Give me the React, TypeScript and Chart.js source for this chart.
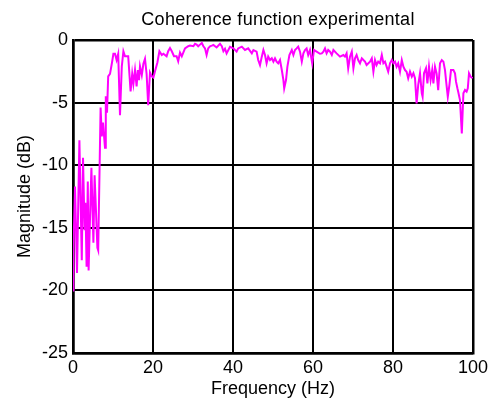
import React, { useEffect, useRef } from "react";
import { Chart, registerables } from "chart.js";

Chart.register(...registerables);

const chartTitle = "Coherence function experimental";
const xAxisTitle = "Frequency (Hz)";
const yAxisTitle = "Magnitude (dB)";
const xTickValues = [0, 20, 40, 60, 80, 100];
const yTickValues = [-25, -20, -15, -10, -5, 0];

const freqHz = [
  0, 0.1, 0.5, 1.0, 1.6, 2.2, 2.5, 2.9, 3.1, 3.4, 3.7, 3.9, 4.6, 5.1, 5.4, 6.1, 6.3, 6.9, 7.2, 7.5,
  8.0, 8.2, 8.5, 8.8, 9.25, 9.7, 10.1, 10.5, 10.9, 11.3, 11.75, 12.2, 12.6, 13.0, 13.8, 14.4, 14.8, 15.1, 15.5, 15.9,
  16.2, 16.5, 16.75, 17.2, 17.6, 18.0, 18.4, 18.8, 19.25, 19.7, 20.1, 20.5, 21.1, 21.6, 22.2, 22.6, 23.4, 23.8, 24.25, 24.7,
  25.25, 25.9, 26.3, 26.75, 27.2, 28.0, 28.8, 29.25, 30.1, 30.5, 30.9, 31.3, 31.75, 32.2, 32.6, 33.0, 33.4, 33.8, 34.25, 34.7,
  35.1, 35.9, 36.75, 37.2, 37.6, 38.0, 38.4, 39.25, 40.1, 40.9, 41.3, 42.2, 43.0, 43.8, 44.7, 45.1, 45.9, 46.3, 46.75, 47.2,
  47.6, 48.0, 48.4, 48.8, 49.25, 49.7, 50.1, 50.5, 50.9, 51.3, 51.75, 52.2, 52.6, 52.8, 53.25, 53.6, 54.1, 54.7, 55.1, 55.5,
  55.9, 56.3, 56.75, 57.2, 57.6, 58.0, 58.4, 58.8, 59.25, 59.8, 60.25, 60.9, 61.75, 62.2, 62.6, 63.0, 63.4, 63.8, 64.25, 64.7,
  65.1, 65.9, 66.75, 67.6, 68.0, 68.4, 68.8, 69.25, 69.7, 70.1, 70.5, 70.9, 71.3, 71.75, 72.2, 72.6, 73.0, 73.4, 74.25, 74.7,
  75.1, 75.5, 75.9, 76.3, 76.75, 77.2, 77.6, 78.0, 78.4, 78.8, 79.25, 79.7, 80.1, 80.5, 80.9, 81.3, 81.75, 82.2, 82.6, 83.0,
  83.4, 83.8, 84.25, 84.7, 85.1, 85.5, 85.9, 86.3, 86.75, 87.2, 87.4, 87.75, 88.25, 88.6, 89.0, 89.4, 89.8, 90.1, 90.5, 90.9,
  91.3, 91.75, 92.2, 92.6, 93.0, 93.25, 93.7, 94.1, 94.5, 95.1, 95.5, 95.75, 96.1, 96.3, 96.75, 97.2, 97.6, 98.0, 98.4, 98.7,
  99.0, 99.4, 99.9,
];

const magnitudeDb = [
  -20.0, -16.8, -11.7, -18.6, -8.0, -17.6, -9.4, -15.2, -13.0, -18.1, -11.3, -18.4, -10.2, -16.2, -10.8, -16.6, -16.8, -5.4, -7.7, -6.6,
  -8.6, -4.5, -5.8, -2.9, -2.7, -1.9, -1.1, -1.1, -1.6, -1.1, -6.0, -2.1, -0.9, -1.3, -1.3, -4.1, -2.7, -3.5, -2.4, -3.7,
  -2.4, -3.2, -2.1, -2.8, -1.9, -1.5, -2.7, -5.2, -2.6, -2.9, -3.0, -2.5, -1.8, -0.9, -1.2, -1.1, -1.3, -0.9, -0.64, -0.9,
  -1.3, -1.3, -1.7, -1.0, -1.3, -0.67, -0.5, -0.45, -0.5, -0.3, -0.37, -0.5, -0.37, -0.24, -0.5, -0.67, -1.2, -0.67, -0.5, -0.45,
  -0.4, -0.6, -0.3, -0.5, -0.9, -0.7, -1.07, -0.55, -0.67, -0.93, -0.67, -0.53, -0.8, -0.67, -1.07, -0.8, -0.93, -1.6, -2.0, -1.33,
  -0.8, -1.2, -1.86, -1.33, -1.6, -1.46, -1.73, -1.46, -1.73, -1.86, -1.6, -2.4, -3.2, -3.86, -3.2, -2.13, -1.2, -0.8, -1.2, -0.8,
  -0.67, -0.53, -0.93, -1.73, -1.07, -0.8, -0.67, -1.2, -0.8, -1.86, -0.8, -0.93, -1.1, -1.07, -0.93, -0.67, -1.07, -0.8, -0.93, -1.2,
  -0.8, -1.07, -1.33, -1.2, -1.33, -1.07, -2.26, -1.33, -0.93, -2.26, -1.46, -1.2, -1.6, -1.86, -1.46, -1.6, -1.73, -2.0, -1.73, -1.46,
  -2.53, -1.6, -2.0, -1.73, -1.86, -1.2, -1.86, -1.73, -2.13, -2.53, -1.86, -1.6, -1.86, -1.73, -2.13, -1.86, -2.53, -1.6, -2.13, -2.4,
  -2.53, -3.06, -2.53, -2.93, -2.66, -3.06, -5.06, -3.6, -2.66, -4.26, -4.53, -2.66, -2.26, -3.46, -2.13, -3.2, -2.4, -3.46, -2.13, -2.66,
  -4.0, -1.86, -1.6, -1.73, -2.4, -3.2, -4.53, -3.6, -2.4, -2.4, -2.66, -3.33, -3.86, -4.13, -4.8, -7.46, -4.26, -4.0, -4.13, -3.86,
  -2.66, -2.93, -3.06,
];

const FONT = "'Liberation Sans', Arial, Helvetica, sans-serif";

const titlePlugin = {
  id: "centeredTitle",
  afterDraw(chart: any) {
    const { ctx, chartArea } = chart;
    ctx.save();
    ctx.font = `18px ${FONT}`;
    ctx.fillStyle = "#000";
    ctx.textAlign = "center";
    ctx.textBaseline = "middle";
    try {
      (ctx as any).letterSpacing = "0.3px";
    } catch (e) {}
    ctx.fillText(chartTitle, (chartArea.left + chartArea.right) / 2 + 5, 20);
    ctx.restore();
  },
};

export default function App() {
  const canvasRef = useRef<HTMLCanvasElement | null>(null);

  useEffect(() => {
    const canvas = canvasRef.current;
    if (!canvas) return;
    const points = freqHz.map((f, i) => ({ x: f, y: magnitudeDb[i] }));
    const edgeWidth = (ctx: any) => {
      const v = ctx.tick ? ctx.tick.value : null;
      return v === 0 || v === 100 || v === -25 ? 2.5 : 2;
    };
    const chart = new Chart(canvas, {
      type: "line",
      data: {
        datasets: [
          {
            data: points,
            borderColor: "#ff00ff",
            borderWidth: 2,
            pointRadius: 0,
            tension: 0,
            fill: false,
          },
        ],
      },
      options: {
        animation: false,
        responsive: false,
        maintainAspectRatio: false,
        layout: { padding: { left: 0, right: 20, top: 40, bottom: 0 } },
        plugins: {
          legend: { display: false },
          tooltip: { enabled: false },
          title: { display: false },
        },
        scales: {
          x: {
            type: "linear",
            min: 0,
            max: 100,
            afterBuildTicks: (scale: any) => {
              scale.ticks = xTickValues.map((v) => ({ value: v }));
            },
            afterFit: (scale: any) => {
              scale.height = 47;
            },
            grid: { color: "#000", lineWidth: edgeWidth, drawTicks: false },
            border: { color: "#000", width: 2.5 },
            ticks: {
              color: "#000",
              padding: 4,
              maxRotation: 0,
              font: { family: FONT, size: 18 },
            },
            title: {
              display: true,
              text: xAxisTitle,
              color: "#000",
              font: { family: FONT, size: 18 },
              padding: { top: 0, bottom: 0.5 },
            },
          },
          y: {
            type: "linear",
            min: -25,
            max: 0,
            afterBuildTicks: (scale: any) => {
              scale.ticks = yTickValues.map((v) => ({ value: v }));
            },
            afterFit: (scale: any) => {
              scale.width = 73;
            },
            grid: { color: "#000", lineWidth: edgeWidth, drawTicks: false },
            border: { color: "#000", width: 2.5 },
            ticks: {
              color: "#000",
              padding: 5,
              font: { family: FONT, size: 18 },
            },
            title: {
              display: true,
              text: yAxisTitle,
              color: "#000",
              font: { family: FONT, size: 18 },
              padding: { top: 14, bottom: 0 },
            },
          },
        },
      },
      plugins: [titlePlugin],
    });
    return () => chart.destroy();
  }, []);

  return (
    <div style={{ position: "absolute", left: 0, top: 0, width: 493, height: 400, background: "#fff" }}>
      <canvas ref={canvasRef} width={493} height={400} style={{ width: 493, height: 400, display: "block" }} />
    </div>
  );
}
